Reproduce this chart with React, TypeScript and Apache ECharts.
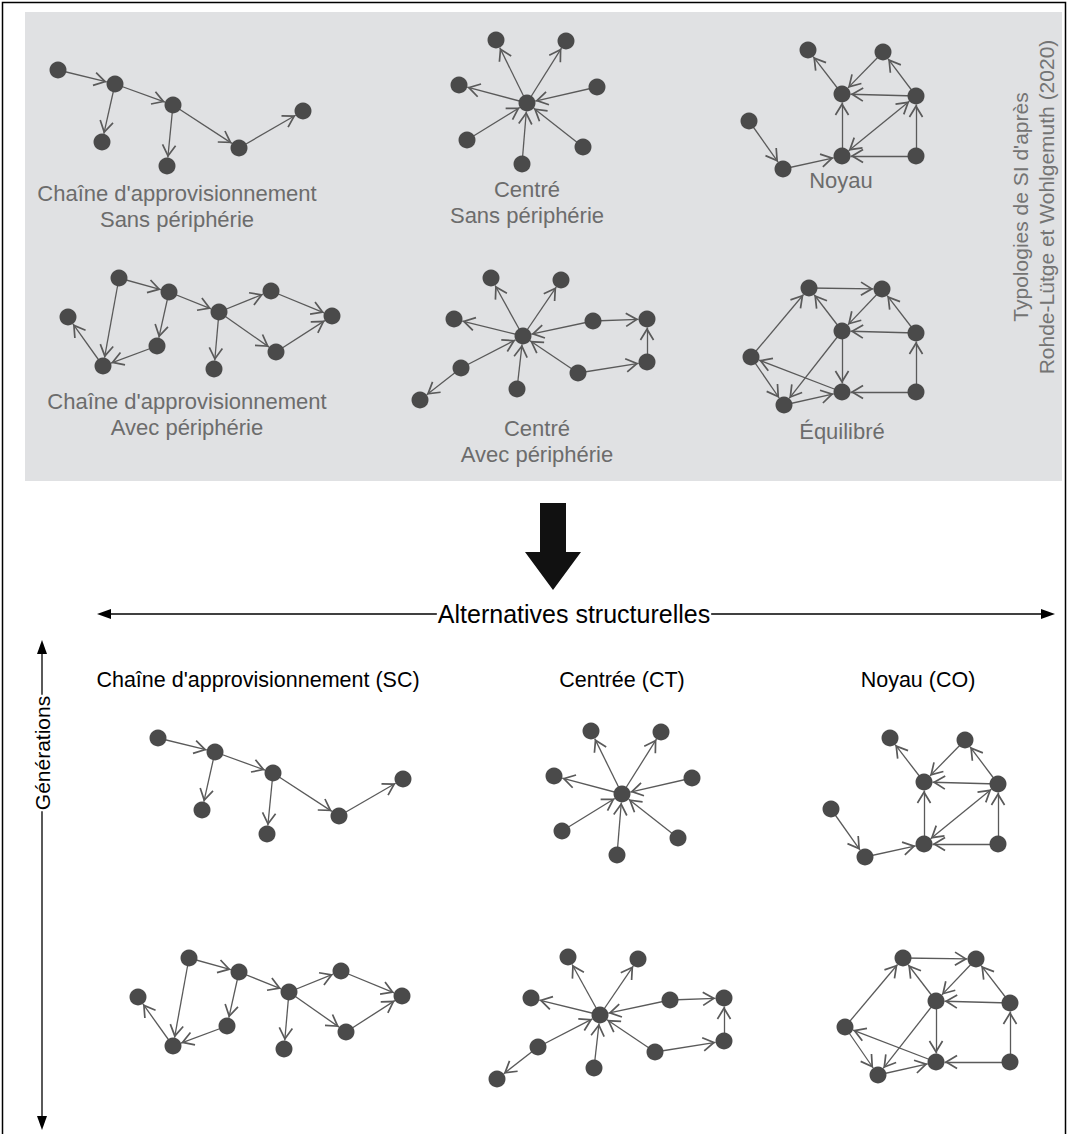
import React, { useEffect, useRef } from "react";
import * as echarts from "echarts";

type Node = [string, number, number];
type Edge = [string, string, boolean?];

// Supply chain, no periphery
const scNodes: Node[] = [["A", 18, 15], ["B", 75, 29], ["C", 62, 87], ["D", 133, 50], ["E", 127, 111], ["F", 199, 93], ["G", 263, 56]];
const scEdges: Edge[] = [["A", "B"], ["B", "C"], ["B", "D"], ["D", "E"], ["D", "F"], ["F", "G"]];

// Centre, no periphery
const ctNodes: Node[] = [["O", 87, 78], ["T1", 56, 15], ["T2", 126, 16], ["L", 19, 60], ["R", 157, 62], ["LL", 27, 115], ["B", 82, 139], ["LR", 143, 122]];
const ctEdges: Edge[] = [["O", "T1"], ["O", "T2"], ["O", "L"], ["R", "O"], ["LL", "O"], ["B", "O"], ["LR", "O"]];

// Core (Noyau)
const coNodes: Node[] = [["a", 73, 15], ["b", 148, 17], ["c", 107, 59], ["d", 181, 61], ["e", 14, 86], ["f", 48, 134], ["g", 107, 121], ["h", 181, 121]];
const coEdges: Edge[] = [["c", "a"], ["b", "c"], ["d", "b"], ["d", "c"], ["g", "c"], ["g", "d", true], ["h", "g"], ["h", "d"], ["e", "f"], ["f", "g"]];

// Supply chain, with periphery
const sc2Nodes: Node[] = [["p1", 13, 52], ["p2", 64, 13], ["p3", 48, 101], ["p4", 114, 27], ["p5", 102, 81], ["p6", 164, 47], ["p7", 159, 104], ["p8", 216, 26], ["p9", 221, 87], ["p10", 277, 51]];
const sc2Edges: Edge[] = [["p2", "p3"], ["p2", "p4"], ["p4", "p5"], ["p5", "p3"], ["p3", "p1"], ["p4", "p6"], ["p6", "p7"], ["p6", "p8"], ["p6", "p9"], ["p8", "p10"], ["p9", "p10"]];

// Centre, with periphery
const ct2Nodes: Node[] = [["O", 113, 71], ["T1", 81, 13], ["T2", 151, 15], ["L", 44, 54], ["R1", 183, 56], ["R2", 237, 54], ["R3", 237, 97], ["LR", 168, 108], ["B", 107, 124], ["LL", 51, 103], ["FL", 10, 135]];
const ct2Edges: Edge[] = [["O", "T1"], ["O", "T2"], ["O", "L"], ["R1", "O"], ["R1", "R2"], ["R3", "R2"], ["LR", "R3"], ["LR", "O"], ["B", "O"], ["LL", "O"], ["LL", "FL"]];

// Balanced (Équilibré)
const balNodes: Node[] = [["n1", 69, 13], ["n2", 142, 14], ["n3", 102, 56], ["n4", 176, 58], ["n5", 11, 82], ["n6", 44, 130], ["n7", 102, 117], ["n8", 176, 117]];
const balEdges: Edge[] = [["n1", "n2"], ["n3", "n1"], ["n2", "n3"], ["n4", "n3"], ["n4", "n2"], ["n8", "n4"], ["n8", "n7"], ["n3", "n7"], ["n3", "n6"], ["n5", "n1"], ["n5", "n6"], ["n7", "n5"], ["n6", "n7"]];

// Texts
const topLabels = [
  "Chaîne d'approvisionnement\nSans périphérie",
  "Centré\nSans périphérie",
  "Noyau",
  "Chaîne d'approvisionnement\nAvec périphérie",
  "Centré\nAvec périphérie",
  "Équilibré",
];
const sideNote = "Typologies de SI d'après\nRohde-Lütge et Wohlgemuth (2020)";
const axisTitleX = "Alternatives structurelles";
const axisTitleY = "Générations";
const bottomHeaders = ["Chaîne d'approvisionnement (SC)", "Centrée (CT)", "Noyau (CO)"];

const ARROW =
  "path://M0,0L0.02,0L0,0.02ZM20,0L19.98,0L20,0.02ZM10,10L15.6,19.3L14.5,20L10,12.6L5.5,20L4.4,19.3Z";

const FONT = "'Liberation Sans', Arial, Helvetica, sans-serif";

export default function App() {
  const ref = useRef<HTMLDivElement>(null);
  useEffect(() => {
    document.body.style.margin = "0";
    if (!ref.current) return;
    const chart = echarts.init(ref.current, undefined, { renderer: "svg" });

    const types: Record<string, { nodes: Node[]; edges: Edge[] }> = {
      sc: { nodes: scNodes, edges: scEdges },
      ct: { nodes: ctNodes, edges: ctEdges },
      co: { nodes: coNodes, edges: coEdges },
      sc2: { nodes: sc2Nodes, edges: sc2Edges },
      ct2: { nodes: ct2Nodes, edges: ct2Edges },
      bal: { nodes: balNodes, edges: balEdges },
    };
    // panel layout: type, left, top, width, height
    const panels: [string, number, number, number, number][] = [
      ["sc", 40, 55, 280, 125],
      ["ct", 440, 25, 170, 155],
      ["co", 735, 35, 195, 145],
      ["sc2", 55, 265, 290, 115],
      ["ct2", 410, 265, 250, 145],
      ["bal", 740, 275, 190, 140],
      ["sc", 140, 723, 280, 125],
      ["ct", 535, 716, 170, 155],
      ["co", 817, 723, 195, 145],
      ["sc2", 125, 945, 290, 115],
      ["ct2", 487, 944, 250, 145],
      ["bal", 834, 945, 190, 140],
    ];

    const grid: any[] = [];
    const xAxis: any[] = [];
    const yAxis: any[] = [];
    const series: any[] = [];
    panels.forEach(([t, left, top, w, h], i) => {
      grid.push({ left, top, width: w, height: h, show: false, containLabel: false });
      xAxis.push({ type: "value", gridIndex: i, min: 0, max: w, show: false });
      yAxis.push({ type: "value", gridIndex: i, min: 0, max: h, inverse: true, show: false });
      const g = types[t];
      series.push({
        type: "graph",
        coordinateSystem: "cartesian2d",
        xAxisIndex: i,
        yAxisIndex: i,
        layout: "none",
        silent: true,
        symbol: "circle",
        symbolSize: 17,
        itemStyle: { color: "#4a4a4a" },
        lineStyle: { color: "#5a5a5a", width: 1.3, opacity: 1, curveness: 0 },
        edgeSymbol: ["none", ARROW],
        edgeSymbolSize: 26,
        label: { show: false },
        emphasis: { disabled: true },
        data: g.nodes.map(([name, x, y]) => ({ name, value: [x, y] })),
        links: g.edges.map(([s, tt, both]) =>
          both ? { source: s, target: tt, symbol: [ARROW, ARROW] } : { source: s, target: tt }
        ),
      });
    });

    const labelPos: [number, number][] = [
      [177, 206],
      [527, 202],
      [841, 180],
      [187, 414],
      [537, 441],
      [842, 431],
    ];
    const headerPos: [number, number][] = [
      [258, 680],
      [622, 680],
      [918, 680],
    ];

    const txt = (text: string, x: number, y: number, size: number, fill: string, extra: any = {}) => ({
      type: "text",
      x,
      y,
      z: 10,
      ...extra,
      style: {
        text,
        font: `${size}px ${FONT}`,
        fill,
        align: "center",
        verticalAlign: "middle",
        textAlign: "center",
        textVerticalAlign: "middle",
        lineHeight: 26,
        ...(extra.style || {}),
      },
    });

    const graphic: any[] = [
      { type: "rect", z: 0, shape: { x: 2.5, y: 2.5, width: 1063, height: 1145 }, style: { fill: "#fff", stroke: "#000", lineWidth: 1.5 } },
      { type: "rect", z: 1, shape: { x: 25, y: 12, width: 1037, height: 469 }, style: { fill: "#e0e1e3" } },
      ...topLabels.map((t, i) => txt(t, labelPos[i][0], labelPos[i][1], 22, "#6c6c6c")),
      txt(sideNote, 1033, 207, 21, "#747474", { rotation: Math.PI / 2 }),
      {
        type: "polygon",
        z: 10,
        shape: { points: [[540, 503], [566, 503], [566, 552], [581, 552], [553, 590], [525, 552], [540, 552]] },
        style: { fill: "#111" },
      },
      { type: "line", z: 5, shape: { x1: 104, y1: 614, x2: 1048, y2: 614 }, style: { stroke: "#000", lineWidth: 1.3 } },
      { type: "polygon", z: 5, shape: { points: [[97, 614], [111, 609], [111, 619]] }, style: { fill: "#000" } },
      { type: "polygon", z: 5, shape: { points: [[1055, 614], [1041, 609], [1041, 619]] }, style: { fill: "#000" } },
      txt(axisTitleX, 574, 614, 25, "#000", { style: { backgroundColor: "#fff", padding: [2, 1] } }),
      { type: "line", z: 5, shape: { x1: 42, y1: 650, x2: 42, y2: 1120 }, style: { stroke: "#000", lineWidth: 1.3 } },
      { type: "polygon", z: 5, shape: { points: [[42, 640], [37, 654], [47, 654]] }, style: { fill: "#000" } },
      { type: "polygon", z: 5, shape: { points: [[42, 1130], [37, 1116], [47, 1116]] }, style: { fill: "#000" } },
      txt(axisTitleY, 42, 753, 21, "#000", { rotation: Math.PI / 2, style: { backgroundColor: "#fff", padding: [2, 1] } }),
      ...bottomHeaders.map((t, i) => txt(t, headerPos[i][0], headerPos[i][1], 21.5, "#000")),
    ];

    chart.setOption({
      animation: false,
      backgroundColor: "#fff",
      grid,
      xAxis,
      yAxis,
      series,
      graphic,
    });
    return () => chart.dispose();
  }, []);
  return <div ref={ref} style={{ width: 1068, height: 1134 }} />;
}
